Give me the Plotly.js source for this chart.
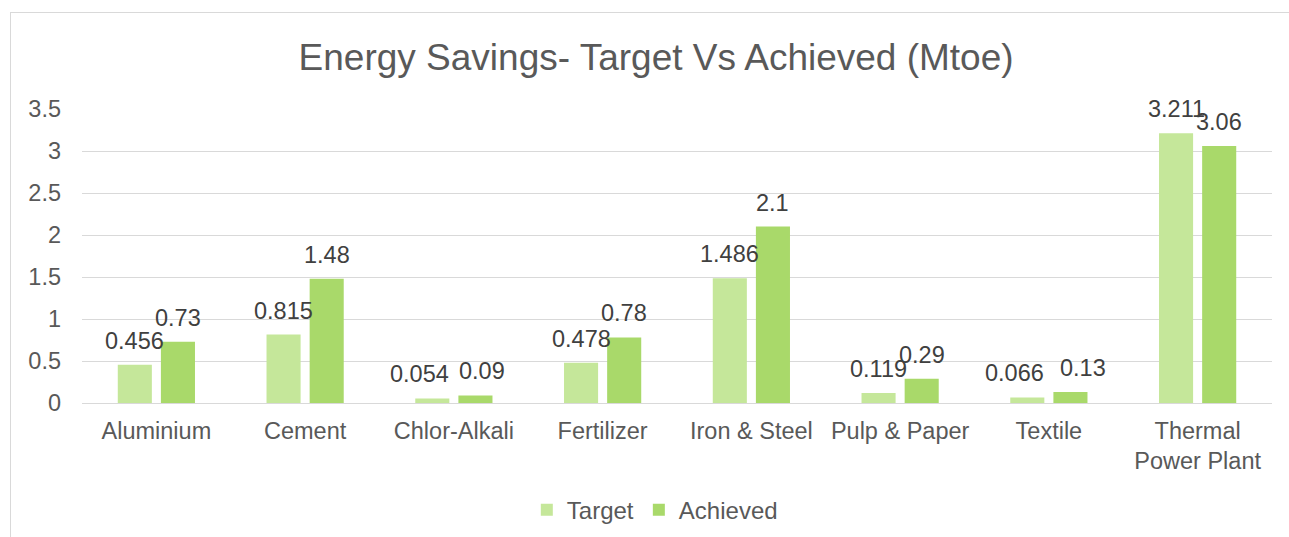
<!DOCTYPE html>
<html>
<head>
<meta charset="utf-8">
<script src="https://cdn.plot.ly/plotly-3.0.1.min.js"></script>
<style>
  html, body { margin: 0; padding: 0; background: #ffffff; }
  #wrap { position: relative; width: 1289px; height: 537px; overflow: hidden; }
  #chart { position: absolute; left: 0; top: 0; width: 1289px; height: 537px; }
  #frame { position: absolute; left: 10px; top: 12px; width: 1300px; height: 560px;
           border: 1px solid #d9d9d9; box-sizing: border-box; pointer-events: none; }
</style>
</head>
<body>
<div id="wrap">
  <div id="chart"></div>
  <div id="frame"></div>
</div>
<script>
const categories = ["Aluminium", "Cement", "Chlor-Alkali", "Fertilizer", "Iron & Steel", "Pulp & Paper", "Textile", "Thermal<br>Power Plant"];
const targetValues = [0.456, 0.815, 0.054, 0.478, 1.486, 0.119, 0.066, 3.211];
const achievedValues = [0.73, 1.48, 0.09, 0.78, 2.1, 0.29, 0.13, 3.06];
const seriesNames = ["Target", "Achieved"];
const seriesColors = ["#c5e79a", "#a9d96a"];
const yTicks = [0, 0.5, 1, 1.5, 2, 2.5, 3, 3.5];
const yTickText = ["0", "0.5", "1", "1.5", "2", "2.5", "3", "3.5"];

const FONT = "Liberation Sans, Arial, sans-serif";
const TEXT = "#595959";

// label layout tweaks (pixel nudges so crowded data labels do not collide)
const labelNudge = {
  "Target|Chlor-Alkali": -13, "Achieved|Chlor-Alkali": 7,
  "Target|Textile": -13, "Achieved|Textile": 13
};

const traces = [targetValues, achievedValues].map((vals, i) => ({
  type: "bar",
  name: seriesNames[i],
  x: categories,
  y: vals,
  marker: { color: seriesColors[i] },
  hoverinfo: "x+y"
}));

const annotations = [];
[targetValues, achievedValues].forEach((vals, i) => {
  vals.forEach((v, j) => {
    const nudge = labelNudge[seriesNames[i] + "|" + categories[j]] || 0;
    annotations.push({
      x: categories[j], y: v, xref: "x", yref: "y",
      text: String(v), showarrow: false,
      xanchor: "center", yanchor: "bottom",
      xshift: (i === 0 ? -21.5 : 21.5) + nudge, yshift: 9,
      font: { family: FONT, size: 23.5, color: "#404040" }
    });
  });
});

const layout = {
  width: 1289, height: 537,
  paper_bgcolor: "rgba(0,0,0,0)",
  plot_bgcolor: "rgba(0,0,0,0)",
  margin: { l: 82, r: 17, t: 109, b: 134, pad: 0, autoexpand: false },
  barmode: "group",
  bargap: 0.42,
  bargroupgap: 0.21,
  title: {
    text: "Energy Savings- Target Vs Achieved (Mtoe)",
    font: { family: FONT, size: 37, color: TEXT },
    x: 0.509, xref: "container", xanchor: "center",
    y: 0.894, yref: "container", yanchor: "middle"
  },
  xaxis: {
    type: "category", automargin: false,
    showgrid: false, zeroline: false, showline: false, ticks: "",
    tickfont: { family: FONT, size: 23.5, color: TEXT },
    ticklabelstandoff: 11
  },
  yaxis: {
    range: [0, 3.5], automargin: false,
    tickvals: yTicks, ticktext: yTickText,
    showgrid: true, gridcolor: "#d9d9d9", gridwidth: 1,
    zeroline: true, zerolinecolor: "#d9d9d9", zerolinewidth: 1,
    showline: false, ticks: "",
    tickfont: { family: FONT, size: 23.5, color: TEXT },
    ticklabelstandoff: 20
  },
  showlegend: true,
  legend: {
    orientation: "h",
    x: 0.508, xref: "container", xanchor: "center",
    y: 0.05, yref: "container", yanchor: "middle",
    font: { family: FONT, size: 24, color: TEXT },
    itemwidth: 30,
    bgcolor: "rgba(0,0,0,0)"
  },
  annotations: annotations
};

Plotly.newPlot("chart", traces, layout, { displayModeBar: false, staticPlot: true });
</script>
</body>
</html>
